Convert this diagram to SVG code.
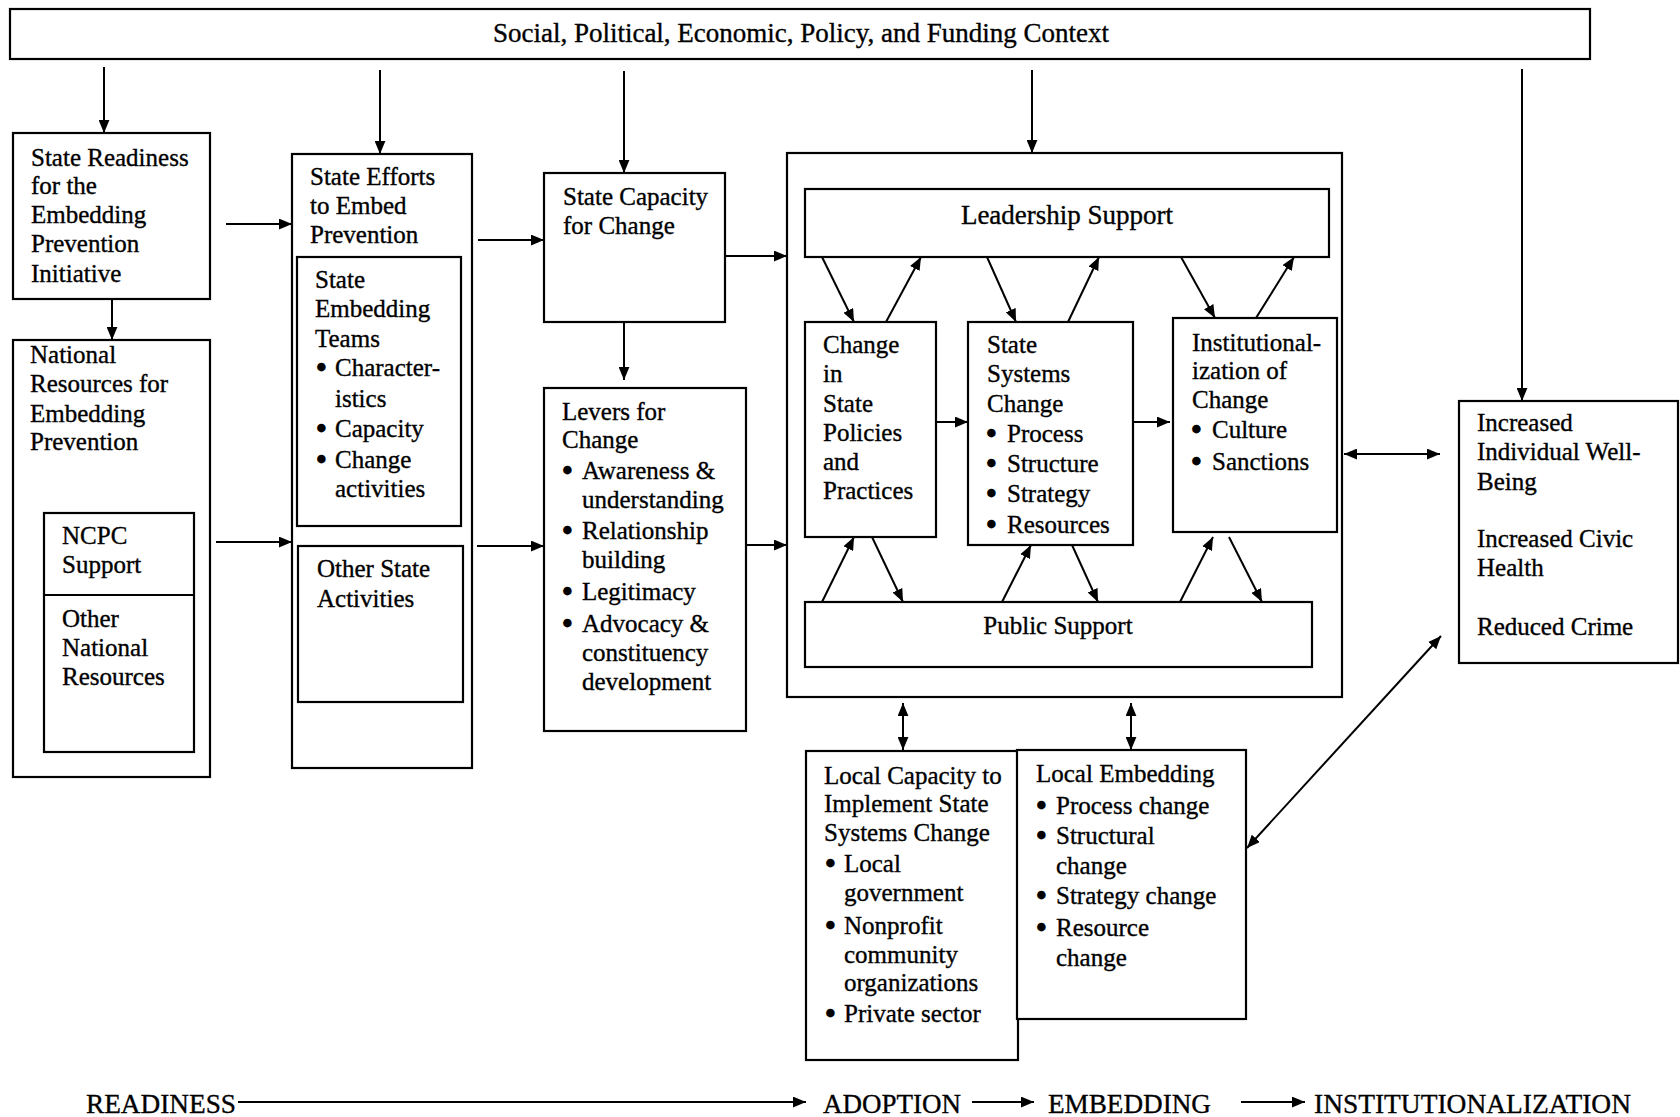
<svg xmlns="http://www.w3.org/2000/svg" width="1680" height="1117" viewBox="0 0 1680 1117">
<style>
  rect.b { fill: #fff; stroke: #000; stroke-width: 2.2; }
  line.c { stroke: #000; stroke-width: 2; fill: none; }
  text { font-family: "Liberation Serif", "Times New Roman", serif; font-size: 25px; fill: #000; stroke: #000; stroke-width: 0.35; }
  text.m { text-anchor: middle; }
  text.h { font-size: 27px; }
  text.d { stroke-width: 2.6; stroke-linejoin: round; }
  text.s { font-size: 28px; }
</style>
<defs>
  <marker id="ah" viewBox="0 0 12 10" markerUnits="userSpaceOnUse" markerWidth="13" markerHeight="11" refX="12" refY="5" orient="auto-start-reverse">
    <path d="M0,0 L12,5 L0,10 z" fill="#000"/>
  </marker>
</defs>
<rect width="1680" height="1117" fill="#fff"/>

<g id="context">
  <rect class="b" x="10" y="9" width="1580" height="50"/>
  <text class="m h" x="801" y="42">Social, Political, Economic, Policy, and Funding Context</text>
</g>

<g id="state-readiness">
  <rect class="b" x="13" y="133" width="197" height="166"/>
  <text x="31" y="166">State Readiness</text>
  <text x="31" y="194">for the</text>
  <text x="31" y="223">Embedding</text>
  <text x="31" y="252">Prevention</text>
  <text x="31" y="282">Initiative</text>
</g>

<g id="national-resources">
  <rect class="b" x="13" y="340" width="197" height="437"/>
  <text x="30" y="363">National</text>
  <text x="30" y="392">Resources for</text>
  <text x="30" y="422">Embedding</text>
  <text x="30" y="450">Prevention</text>
  <g id="ncpc">
    <rect class="b" x="44" y="513" width="150" height="239"/>
    <line class="c" x1="44" y1="595" x2="194" y2="595"/>
    <text x="62" y="544">NCPC</text>
    <text x="62" y="573">Support</text>
    <text x="62" y="627">Other</text>
    <text x="62" y="656">National</text>
    <text x="62" y="685">Resources</text>
  </g>
</g>

<g id="state-efforts">
  <rect class="b" x="292" y="154" width="180" height="614"/>
  <text x="310" y="185">State Efforts</text>
  <text x="310" y="214">to Embed</text>
  <text x="310" y="243">Prevention</text>
  <g id="state-embedding-teams">
    <rect class="b" x="297" y="257" width="164" height="269"/>
    <text x="315" y="288">State</text>
    <text x="315" y="317">Embedding</text>
    <text x="315" y="347">Teams</text>
    <text class="d" x="317" y="376">•</text><text x="335" y="376">Character-</text>
    <text x="335" y="407">istics</text>
    <text class="d" x="317" y="437">•</text><text x="335" y="437">Capacity</text>
    <text class="d" x="317" y="468">•</text><text x="335" y="468">Change</text>
    <text x="335" y="497">activities</text>
  </g>
  <g id="other-state-activities">
    <rect class="b" x="298" y="546" width="165" height="156"/>
    <text x="317" y="577">Other State</text>
    <text x="317" y="607">Activities</text>
  </g>
</g>

<g id="state-capacity">
  <rect class="b" x="544" y="173" width="181" height="149"/>
  <text x="563" y="205">State Capacity</text>
  <text x="563" y="234">for Change</text>
</g>

<g id="levers">
  <rect class="b" x="544" y="388" width="202" height="343"/>
  <text x="562" y="420">Levers for</text>
  <text x="562" y="448">Change</text>
  <text class="d" x="563" y="479">•</text><text x="582" y="479">Awareness &amp;</text>
  <text x="582" y="508">understanding</text>
  <text class="d" x="563" y="539">•</text><text x="582" y="539">Relationship</text>
  <text x="582" y="568">building</text>
  <text class="d" x="563" y="600">•</text><text x="582" y="600">Legitimacy</text>
  <text class="d" x="563" y="632">•</text><text x="582" y="632">Advocacy &amp;</text>
  <text x="582" y="661">constituency</text>
  <text x="582" y="690">development</text>
</g>

<g id="state-change-system">
  <rect class="b" x="787" y="153" width="555" height="544"/>
  <g id="leadership-support">
    <rect class="b" x="805" y="189" width="524" height="68"/>
    <text class="m h" x="1067" y="224">Leadership Support</text>
  </g>
  <g id="change-policies">
    <rect class="b" x="805" y="322" width="131" height="215"/>
    <text x="823" y="353">Change</text>
    <text x="823" y="382">in</text>
    <text x="823" y="412">State</text>
    <text x="823" y="441">Policies</text>
    <text x="823" y="470">and</text>
    <text x="823" y="499">Practices</text>
  </g>
  <g id="state-systems-change">
    <rect class="b" x="968" y="322" width="165" height="223"/>
    <text x="987" y="353">State</text>
    <text x="987" y="382">Systems</text>
    <text x="987" y="412">Change</text>
    <text class="d" x="987" y="442">•</text><text x="1007" y="442">Process</text>
    <text class="d" x="987" y="472">•</text><text x="1007" y="472">Structure</text>
    <text class="d" x="987" y="502">•</text><text x="1007" y="502">Strategy</text>
    <text class="d" x="987" y="533">•</text><text x="1007" y="533">Resources</text>
  </g>
  <g id="institutionalization">
    <rect class="b" x="1173" y="318" width="164" height="214"/>
    <text x="1192" y="351">Institutional-</text>
    <text x="1192" y="379">ization of</text>
    <text x="1192" y="408">Change</text>
    <text class="d" x="1192" y="438">•</text><text x="1212" y="438">Culture</text>
    <text class="d" x="1192" y="470">•</text><text x="1212" y="470">Sanctions</text>
  </g>
  <g id="public-support">
    <rect class="b" x="805" y="602" width="507" height="65"/>
    <text class="m" x="1058" y="634">Public Support</text>
  </g>
</g>

<g id="outcomes">
  <rect class="b" x="1459" y="401" width="219" height="262"/>
  <text x="1477" y="431">Increased</text>
  <text x="1477" y="460">Individual Well-</text>
  <text x="1477" y="490">Being</text>
  <text x="1477" y="547">Increased Civic</text>
  <text x="1477" y="576">Health</text>
  <text x="1477" y="635">Reduced Crime</text>
</g>

<g id="local-capacity">
  <rect class="b" x="806" y="751" width="212" height="309"/>
  <text x="824" y="784">Local Capacity to</text>
  <text x="824" y="812">Implement State</text>
  <text x="824" y="841">Systems Change</text>
  <text class="d" x="826" y="872">•</text><text x="844" y="872">Local</text>
  <text x="844" y="901">government</text>
  <text class="d" x="826" y="934">•</text><text x="844" y="934">Nonprofit</text>
  <text x="844" y="963">community</text>
  <text x="844" y="991">organizations</text>
  <text class="d" x="826" y="1022">•</text><text x="844" y="1022">Private sector</text>
</g>

<g id="local-embedding">
  <rect class="b" x="1017" y="750" width="229" height="269"/>
  <text x="1036" y="782">Local Embedding</text>
  <text class="d" x="1037" y="814">•</text><text x="1056" y="814">Process change</text>
  <text class="d" x="1037" y="844">•</text><text x="1056" y="844">Structural</text>
  <text x="1056" y="874">change</text>
  <text class="d" x="1037" y="904">•</text><text x="1056" y="904">Strategy change</text>
  <text class="d" x="1037" y="936">•</text><text x="1056" y="936">Resource</text>
  <text x="1056" y="966">change</text>
</g>

<g id="connectors">
  <line class="c" x1="104" y1="67" x2="104" y2="133" marker-end="url(#ah)"/>
  <line class="c" x1="380" y1="70" x2="380" y2="154" marker-end="url(#ah)"/>
  <line class="c" x1="624" y1="71" x2="624" y2="173" marker-end="url(#ah)"/>
  <line class="c" x1="1032" y1="70" x2="1032" y2="153" marker-end="url(#ah)"/>
  <line class="c" x1="1522" y1="69" x2="1522" y2="401" marker-end="url(#ah)"/>
  <line class="c" x1="112" y1="299" x2="112" y2="340" marker-end="url(#ah)"/>
  <line class="c" x1="226" y1="224" x2="292" y2="224" marker-end="url(#ah)"/>
  <line class="c" x1="216" y1="542" x2="292" y2="542" marker-end="url(#ah)"/>
  <line class="c" x1="478" y1="240" x2="544" y2="240" marker-end="url(#ah)"/>
  <line class="c" x1="477" y1="546" x2="544" y2="546" marker-end="url(#ah)"/>
  <line class="c" x1="624" y1="322" x2="624" y2="380" marker-end="url(#ah)"/>
  <line class="c" x1="725" y1="256" x2="787" y2="256" marker-end="url(#ah)"/>
  <line class="c" x1="746" y1="545" x2="787" y2="545" marker-end="url(#ah)"/>
  <line class="c" x1="936" y1="422" x2="968" y2="422" marker-end="url(#ah)"/>
  <line class="c" x1="1133" y1="422" x2="1170" y2="422" marker-end="url(#ah)"/>
  <line class="c" x1="822" y1="257" x2="854" y2="322" marker-end="url(#ah)"/>
  <line class="c" x1="886" y1="322" x2="921" y2="257" marker-end="url(#ah)"/>
  <line class="c" x1="987" y1="257" x2="1016" y2="322" marker-end="url(#ah)"/>
  <line class="c" x1="1068" y1="322" x2="1099" y2="257" marker-end="url(#ah)"/>
  <line class="c" x1="1181" y1="257" x2="1215" y2="318" marker-end="url(#ah)"/>
  <line class="c" x1="1256" y1="318" x2="1294" y2="257" marker-end="url(#ah)"/>
  <line class="c" x1="822" y1="602" x2="854" y2="537" marker-end="url(#ah)"/>
  <line class="c" x1="872" y1="537" x2="903" y2="602" marker-end="url(#ah)"/>
  <line class="c" x1="1002" y1="602" x2="1031" y2="545" marker-end="url(#ah)"/>
  <line class="c" x1="1072" y1="545" x2="1098" y2="602" marker-end="url(#ah)"/>
  <line class="c" x1="1180" y1="602" x2="1213" y2="537" marker-end="url(#ah)"/>
  <line class="c" x1="1229" y1="537" x2="1262" y2="602" marker-end="url(#ah)"/>
  <line class="c" x1="1344" y1="454" x2="1440" y2="454" marker-start="url(#ah)" marker-end="url(#ah)"/>
  <line class="c" x1="903" y1="703" x2="903" y2="750" marker-start="url(#ah)" marker-end="url(#ah)"/>
  <line class="c" x1="1131" y1="703" x2="1131" y2="750" marker-start="url(#ah)" marker-end="url(#ah)"/>
  <line class="c" x1="1441" y1="636" x2="1247" y2="848" marker-start="url(#ah)" marker-end="url(#ah)"/>
  <line class="c" x1="238" y1="1102" x2="806" y2="1102" marker-end="url(#ah)"/>
  <line class="c" x1="972" y1="1102" x2="1034" y2="1102" marker-end="url(#ah)"/>
  <line class="c" x1="1241" y1="1102" x2="1305" y2="1102" marker-end="url(#ah)"/>
</g>

<g id="stages">
  <text class="s" x="86" y="1113" textLength="150" lengthAdjust="spacingAndGlyphs">READINESS</text>
  <text class="s" x="823" y="1113" textLength="138" lengthAdjust="spacingAndGlyphs">ADOPTION</text>
  <text class="s" x="1048" y="1113" textLength="163" lengthAdjust="spacingAndGlyphs">EMBEDDING</text>
  <text class="s" x="1314" y="1113" textLength="317" lengthAdjust="spacingAndGlyphs">INSTITUTIONALIZATION</text>
</g>
</svg>
